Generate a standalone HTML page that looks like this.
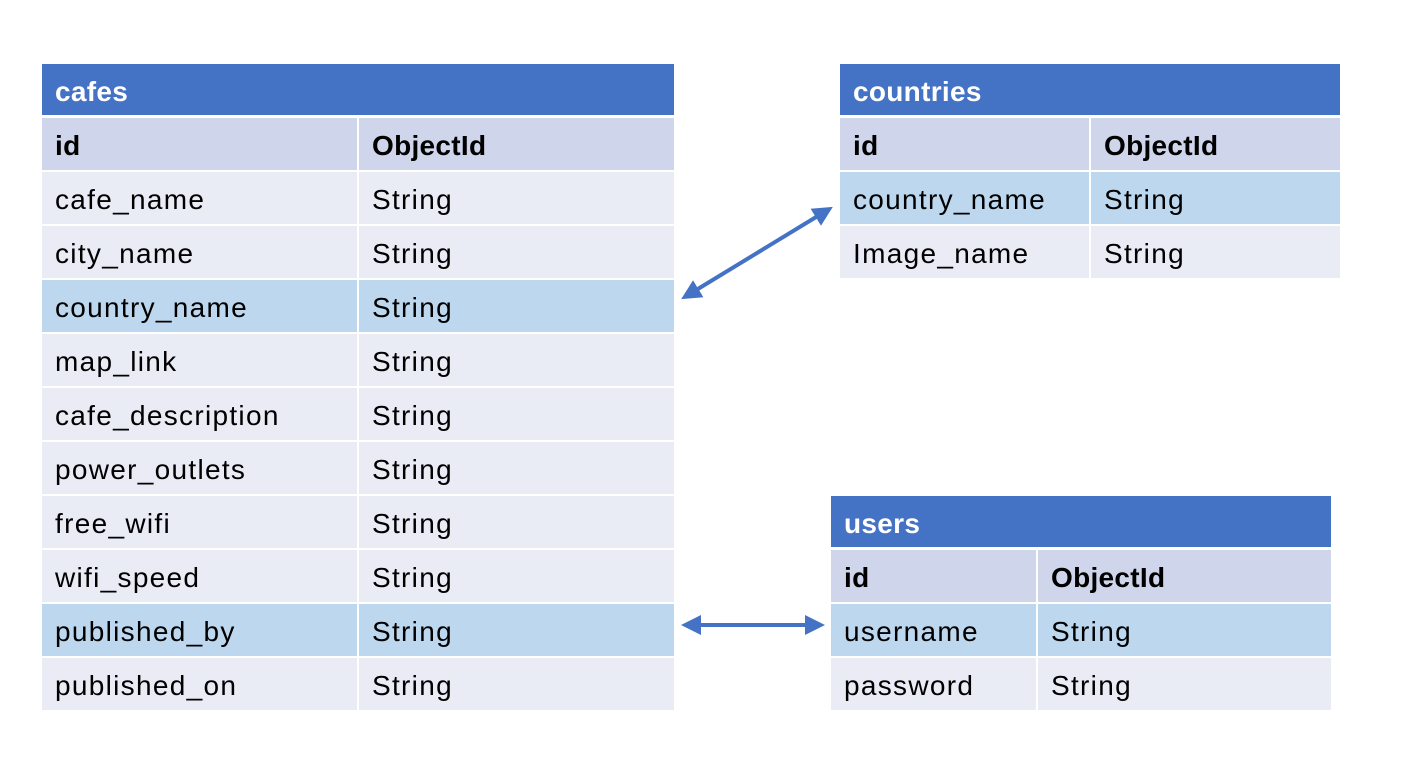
<!DOCTYPE html>
<html><head><style>
body{margin:0;width:1426px;height:774px;background:#fff;position:relative;overflow:hidden;font-family:"Liberation Sans",sans-serif;}
.c{position:absolute;box-sizing:border-box;padding-left:13px;padding-top:4px;font-size:28px;letter-spacing:1.3px;color:#000;display:flex;align-items:center;height:52px;white-space:nowrap}
.h{background:#4472C4;color:#fff;font-weight:bold;height:51px;letter-spacing:0.3px}
.k{background:#CFD5EA;font-weight:bold;letter-spacing:0.3px}
.n{background:#E9EBF5}
.s{background:#BDD7EE}
</style></head><body>
<div class="c h" style="left:42px;top:64px;width:632px">cafes</div>
<div class="c k" style="left:42px;top:118px;width:315px">id</div><div class="c k" style="left:359px;top:118px;width:315px">ObjectId</div>
<div class="c n" style="left:42px;top:172px;width:315px">cafe_name</div><div class="c n" style="left:359px;top:172px;width:315px">String</div>
<div class="c n" style="left:42px;top:226px;width:315px">city_name</div><div class="c n" style="left:359px;top:226px;width:315px">String</div>
<div class="c s" style="left:42px;top:280px;width:315px">country_name</div><div class="c s" style="left:359px;top:280px;width:315px">String</div>
<div class="c n" style="left:42px;top:334px;width:315px">map_link</div><div class="c n" style="left:359px;top:334px;width:315px">String</div>
<div class="c n" style="left:42px;top:388px;width:315px">cafe_description</div><div class="c n" style="left:359px;top:388px;width:315px">String</div>
<div class="c n" style="left:42px;top:442px;width:315px">power_outlets</div><div class="c n" style="left:359px;top:442px;width:315px">String</div>
<div class="c n" style="left:42px;top:496px;width:315px">free_wifi</div><div class="c n" style="left:359px;top:496px;width:315px">String</div>
<div class="c n" style="left:42px;top:550px;width:315px">wifi_speed</div><div class="c n" style="left:359px;top:550px;width:315px">String</div>
<div class="c s" style="left:42px;top:604px;width:315px">published_by</div><div class="c s" style="left:359px;top:604px;width:315px">String</div>
<div class="c n" style="left:42px;top:658px;width:315px">published_on</div><div class="c n" style="left:359px;top:658px;width:315px">String</div>

<div class="c h" style="left:840px;top:64px;width:500px">countries</div>
<div class="c k" style="left:840px;top:118px;width:249px">id</div><div class="c k" style="left:1091px;top:118px;width:249px">ObjectId</div>
<div class="c s" style="left:840px;top:172px;width:249px">country_name</div><div class="c s" style="left:1091px;top:172px;width:249px">String</div>
<div class="c n" style="left:840px;top:226px;width:249px">Image_name</div><div class="c n" style="left:1091px;top:226px;width:249px">String</div>

<div class="c h" style="left:831px;top:496px;width:500px">users</div>
<div class="c k" style="left:831px;top:550px;width:205px">id</div><div class="c k" style="left:1038px;top:550px;width:293px">ObjectId</div>
<div class="c s" style="left:831px;top:604px;width:205px">username</div><div class="c s" style="left:1038px;top:604px;width:293px">String</div>
<div class="c n" style="left:831px;top:658px;width:205px">password</div><div class="c n" style="left:1038px;top:658px;width:293px">String</div>

<svg style="position:absolute;left:0;top:0" width="1426" height="774">
<defs><marker id="a" markerWidth="5" markerHeight="5" refX="3" refY="2.5" orient="auto-start-reverse" markerUnits="strokeWidth"><path d="M0,0 L5,2.5 L0,5 z" fill="#4472C4"/></marker></defs>
<line x1="688" y1="295" x2="826" y2="211" stroke="#4472C4" stroke-width="4" marker-start="url(#a)" marker-end="url(#a)"/>
<line x1="689" y1="625" x2="817" y2="625" stroke="#4472C4" stroke-width="4" marker-start="url(#a)" marker-end="url(#a)"/>
</svg>
</body></html>
